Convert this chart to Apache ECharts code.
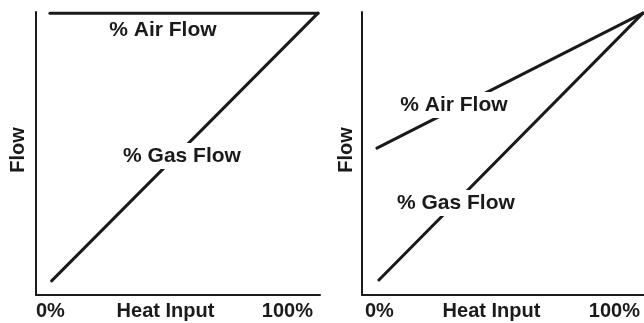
<!DOCTYPE html>
<html>
<head>
<meta charset="utf-8">
<script src="https://cdn.jsdelivr.net/npm/echarts@6/dist/echarts.min.js"></script>
<style>
  html, body { margin: 0; padding: 0; background: #fff; }
  #chart { width: 644px; height: 323px; }
</style>
</head>
<body>
<div id="chart"></div>
<script>
// Heat input (%) vs flow (%) for two burner control schemes.
const xTickLabels = ['0%', '100%'];
const xTitle = 'Heat Input';
const yTitle = 'Flow';

// Left panel: air held at full flow, gas rises with heat input
const leftGas = [[5.5, 5], [99.3, 99.6]];
const leftAir = [[4.9, 99.6], [99.3, 99.6]];
// Right panel: air and gas both rise, air starting from a higher floor
const rightGas = [[6, 5.3], [99.6, 99.6]];
const rightAir = [[5.3, 51.9], [99.6, 99.6]];

// Curve captions, placed in data coordinates
const leftCaptions = [[44.7, 93.6, '% Air Flow'], [51.4, 49.1, '% Gas Flow']];
const rightCaptions = [[32.6, 67.1, '% Air Flow'], [33.3, 32.5, '% Gas Flow']];

const INK = '#1a1a1a';
const FONT = '"Liberation Sans", Arial, Helvetica, sans-serif';

function xAxisFor(gridIndex, pad) {
  return {
    gridIndex, type: 'value', min: 0, max: 100, interval: 100,
    name: xTitle, nameLocation: 'middle', nameGap: 6, nameMoveOverlap: false,
    nameTextStyle: { color: INK, fontFamily: FONT, fontWeight: 'bold', fontSize: 20, padding: [0, pad.name, 0, 0] },
    axisLine: { show: true, lineStyle: { color: INK, width: 2 } },
    axisTick: { show: false }, splitLine: { show: false },
    axisLabel: {
      show: true, margin: 6, color: INK, fontFamily: FONT, fontWeight: 'bold', fontSize: 20,
      alignMinLabel: 'left', alignMaxLabel: 'right',
      padding: [0, pad.right, 0, pad.left],
      formatter: v => (v === 0 ? xTickLabels[0] : xTickLabels[1])
    }
  };
}

function yAxisFor(gridIndex, gap) {
  return {
    gridIndex, type: 'value', min: 0, max: 100,
    name: yTitle, nameLocation: 'middle', nameGap: gap, nameRotate: 90, nameMoveOverlap: false,
    nameTextStyle: { color: INK, fontFamily: FONT, fontWeight: 'bold', fontSize: 20, padding: [0, 0, 0, 7] },
    axisLine: { show: true, lineStyle: { color: INK, width: 2 } },
    axisTick: { show: false }, splitLine: { show: false }, axisLabel: { show: false }
  };
}

function curve(name, idx, data) {
  return {
    name, type: 'line', xAxisIndex: idx, yAxisIndex: idx, data,
    symbol: 'none', z: 2, silent: true,
    lineStyle: { color: INK, width: 3, cap: 'round' }
  };
}

function captions(idx, list) {
  return {
    type: 'scatter', xAxisIndex: idx, yAxisIndex: idx, z: 6, silent: true,
    symbolSize: 0, itemStyle: { color: '#fff', opacity: 1 },
    data: list.map(c => ({ value: [c[0], c[1]], name: c[2] })),
    label: {
      show: true, position: 'inside', formatter: p => p.name,
      color: INK, fontFamily: FONT, fontWeight: 'bold', fontSize: 21,
      lineHeight: 22, padding: [2, 3], backgroundColor: '#fff'
    }
  };
}

const chart = echarts.init(document.getElementById('chart'), null, { renderer: 'canvas' });
chart.setOption({
  animation: false,
  backgroundColor: '#fff',
  grid: [
    { left: 36, top: 12, width: 284, height: 283, outerBoundsMode: 'none', containLabel: false },
    { left: 362, top: 12, right: 0, height: 283, outerBoundsMode: 'none', containLabel: false }
  ],
  xAxis: [xAxisFor(0, { name: 25, right: 7, left: 0 }), xAxisFor(1, { name: 23, right: 4, left: 3 })],
  yAxis: [yAxisFor(0, 8), yAxisFor(1, 6)],
  series: [
    curve('% Gas Flow', 0, leftGas),
    curve('% Air Flow', 0, leftAir),
    curve('% Gas Flow', 1, rightGas),
    curve('% Air Flow', 1, rightAir),
    captions(0, leftCaptions),
    captions(1, rightCaptions)
  ]
});
</script>
</body>
</html>
